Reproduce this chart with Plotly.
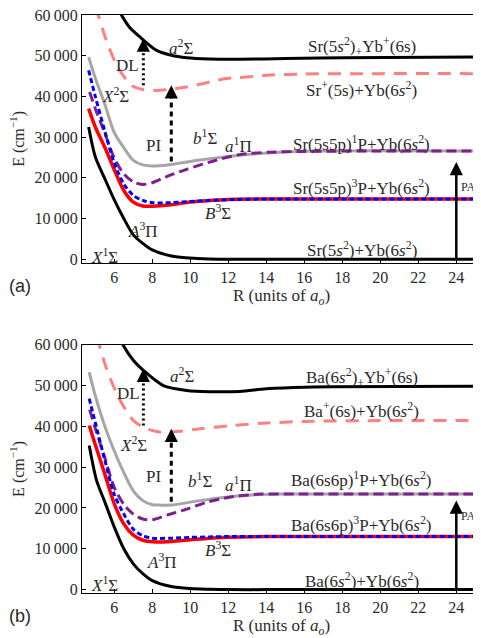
import plotly.graph_objects as go

# ---------------- Panel (a): SrYb ----------------
R_X1S_a = [4.65, 5.0, 5.5, 6.0, 6.5, 7.0, 7.5, 8.0, 9.0, 10.0, 11.0, 12.0, 14, 18, 25]
E_X1S_a = [32500, 25200, 19800, 14600, 10000, 6000, 3900, 2300, 800, 300, 100, 0, 0, 0, 0]

R_A3P_a = [4.65, 5.0, 5.5, 6.0, 6.5, 7.0, 7.5, 8.0, 9.0, 10.0, 11.0, 12.0, 14, 18, 25]
E_A3P_a = [37000, 32500, 27500, 22000, 16900, 14050, 13100, 13050, 13400, 14050, 14450, 14700, 14800, 14800, 14800]

R_B3S_a = [4.65, 5.0, 5.5, 6.0, 6.5, 7.0, 7.5, 8.0, 9.0, 10.0, 11.0, 12.0, 14, 18, 25]
E_B3S_a = [46400, 40000, 31500, 23600, 18500, 15700, 14450, 13900, 13900, 14200, 14450, 14650, 14800, 14800, 14800]

R_b1S_a = [4.7, 5.0, 5.5, 6.0, 6.5, 7.0, 7.5, 8.0, 8.7, 9.8, 11.4, 12.7, 14.2, 16, 20, 25]
E_b1S_a = [41100, 37000, 31000, 24800, 21000, 19000, 18400, 18800, 20200, 22100, 24400, 25800, 26300, 26500, 26600, 26600]

R_a1P_a = [4.65, 5.0, 5.5, 6.0, 6.5, 7.0, 7.5, 8.0, 8.4, 9.0, 10.5, 11.9, 13.7, 14.7, 17, 25]
E_a1P_a = [49700, 44500, 38100, 31100, 27400, 24300, 23200, 22900, 23000, 23300, 24400, 25200, 26000, 26300, 26600, 26600]

R_X2S_a = [5.0, 5.16, 5.6, 6.13, 6.5, 6.9, 7.5, 8.4, 9.8, 11.9, 12.6, 14, 16, 20, 25]
E_X2S_a = [62000, 59900, 53500, 47600, 44900, 42700, 41700, 41500, 42300, 44400, 44600, 45200, 45500, 45600, 45600]

R_a2S_a = [6.2, 6.39, 6.8, 7.35, 8.23, 9.0, 9.81, 11.0, 12.6, 15, 18, 25]
E_a2S_a = [61600, 59900, 57000, 54600, 51300, 50100, 49500, 49200, 49150, 49300, 49500, 49700]

arrow_R_a = [7.53, 9.0, 24.0]
arrow_from_a = [42750, 24000, 0]
arrow_to_a = [54200, 42750, 23900]

# ---------------- Panel (b): BaYb ----------------
R_X1S_b = [4.68, 5.07, 5.5, 6.0, 6.5, 7.0, 7.5, 8.0, 9.0, 10, 11, 12, 14, 18, 25]
E_X1S_b = [35300, 26700, 21500, 15300, 10000, 6300, 3900, 2200, 740, 250, 80, 0, 0, 0, 0]

R_A3P_b = [4.68, 5.0, 5.5, 6.0, 6.5, 7.0, 7.5, 8.0, 9.0, 10, 11, 12, 14, 18, 25]
E_A3P_b = [40200, 35500, 28300, 21000, 16100, 13340, 12100, 11700, 11800, 12200, 12600, 12800, 13000, 13000, 13000]

R_B3S_b = [4.68, 5.0, 5.5, 6.0, 6.5, 7.0, 7.5, 8.0, 9.0, 10, 11, 12, 14, 18, 25]
E_B3S_b = [46800, 40900, 31700, 23300, 18500, 14800, 13200, 12600, 12600, 12800, 12900, 13000, 13000, 13000, 13000]

R_b1S_b = [4.7, 5.0, 5.5, 6.0, 6.5, 7.0, 7.5, 8.0, 8.8, 9.6, 11.0, 12.3, 13.7, 16, 25]
E_b1S_b = [44100, 39500, 32300, 25000, 20900, 18500, 17300, 17100, 18300, 19400, 21600, 22800, 23400, 23400, 23400]

R_a1P_b = [4.68, 5.0, 5.5, 5.8, 6.3, 7.0, 7.5, 8.0, 8.4, 9.0, 10.5, 12.6, 14.7, 17, 25]
E_a1P_b = [53300, 47500, 40000, 36300, 30700, 24200, 21800, 20800, 20700, 20700, 21800, 23000, 23400, 23400, 23400]

R_X2S_b = [5.05, 5.21, 5.6, 6.13, 6.5, 7.0, 7.6, 8.41, 9.5, 10.5, 12.26, 14, 16, 20, 25]
E_X2S_b = [62000, 59850, 54000, 48000, 44800, 41450, 39600, 38600, 38800, 39400, 40230, 40800, 41200, 41400, 41450]

R_a2S_b = [6.3, 6.47, 7.0, 7.53, 8.58, 9.81, 11, 12.6, 14, 16, 25]
E_a2S_b = [61800, 59850, 56200, 53700, 50000, 48800, 48500, 48560, 49200, 49600, 49800]

arrow_R_b = [7.53, 9.0, 24.0]
arrow_from_b = [40230, 21500, 0]
arrow_to_b = [54100, 39400, 21800]

# ticks
x_ticks = [6, 8, 10, 12, 14, 16, 18, 20, 22, 24]
y_ticks = [0, 10000, 20000, 30000, 40000, 50000, 60000]
y_ticktext = ["0", "10\u2009000", "20\u2009000", "30\u2009000", "40\u2009000", "50\u2009000", "60\u2009000"]

FONT = "Liberation Serif"
TXT = "#2a2a2a"

fig = go.Figure()


def curve(R, E, color, width, dash, xa, ya):
    fig.add_trace(go.Scatter(x=R, y=E, mode="lines", xaxis=xa, yaxis=ya,
                             line=dict(color=color, width=width, dash=dash,
                                       shape="spline", smoothing=0.8),
                             showlegend=False, hoverinfo="skip"))


def panel(xa, ya, d):
    curve(d["a1P"][0], d["a1P"][1], "#a6a6a6", 3, "solid", xa, ya)
    curve(d["b1S"][0], d["b1S"][1], "#7f1f8f", 3, "10px,5px", xa, ya)
    curve(d["A3P"][0], d["A3P"][1], "#ff0000", 3.5, "solid", xa, ya)
    curve(d["B3S"][0], d["B3S"][1], "#0000ff", 3, "5px,3px", xa, ya)
    curve(d["X1S"][0], d["X1S"][1], "#000000", 3, "solid", xa, ya)
    curve(d["X2S"][0], d["X2S"][1], "#ff8080", 3, "13px,9px", xa, ya)
    curve(d["a2S"][0], d["a2S"][1], "#000000", 3, "solid", xa, ya)
    dashes = ["2px,3px", "5px,4px", "solid"]
    widths = [3, 3, 2.5]
    for R, e0, e1, dsh, w in zip(d["arR"], d["arF"], d["arT"], dashes, widths):
        fig.add_trace(go.Scatter(x=[R, R], y=[e0, e1 - 1800], mode="lines", xaxis=xa, yaxis=ya,
                                 line=dict(color="black", width=w, dash=dsh),
                                 showlegend=False, hoverinfo="skip"))
        fig.add_annotation(x=R, y=e1, ax=R, ay=e1 - 2500, xref=xa, yref=ya,
                           axref=xa, ayref=ya, showarrow=True, arrowhead=2,
                           arrowsize=1.2, arrowwidth=2.2, arrowcolor="black", text="")


panel("x", "y", dict(X1S=(R_X1S_a, E_X1S_a), A3P=(R_A3P_a, E_A3P_a), B3S=(R_B3S_a, E_B3S_a),
                     b1S=(R_b1S_a, E_b1S_a), a1P=(R_a1P_a, E_a1P_a), X2S=(R_X2S_a, E_X2S_a),
                     a2S=(R_a2S_a, E_a2S_a), arR=arrow_R_a, arF=arrow_from_a, arT=arrow_to_a))
panel("x2", "y2", dict(X1S=(R_X1S_b, E_X1S_b), A3P=(R_A3P_b, E_A3P_b), B3S=(R_B3S_b, E_B3S_b),
                       b1S=(R_b1S_b, E_b1S_b), a1P=(R_a1P_b, E_a1P_b), X2S=(R_X2S_b, E_X2S_b),
                       a2S=(R_a2S_b, E_a2S_b), arR=arrow_R_b, arF=arrow_from_b, arT=arrow_to_b))

# text labels
labels_a = [
    ("<i>a</i><sup>2</sup>Σ", 9.51, 52150),
    ("DL", 6.72, 47670),
    ("<i>X</i><sup>2</sup>Σ", 6.04, 40270),
    ("PI", 8.04, 27860),
    ("<i>b</i><sup>1</sup>Σ", 10.77, 30070),
    ("<i>a</i><sup>1</sup>Π", 12.53, 28040),
    ("Sr(5s5p)<sup>1</sup>P+Yb(6<i>s</i><sup>2</sup>)", 19.02, 28450),
    ("Sr(5<i>s</i><sup>2</sup>)<sub>+</sub>Yb<sup>+</sup>(6s)", 19.02, 52150),
    ("Sr<sup>+</sup>(5s)+Yb(6<i>s</i><sup>2</sup>)", 19.02, 41940),
    ("Sr(5s5p)<sup>3</sup>P+Yb(6<i>s</i><sup>2</sup>)", 19.02, 17810),
    ("<i>B</i><sup>3</sup>Σ", 11.46, 11680),
    ("<i>A</i><sup>3</sup>Π", 7.53, 7190),
    ("<i>X</i><sup>1</sup>Σ", 5.51, 810),
    ("Sr(5<i>s</i><sup>2</sup>)+Yb(6<i>s</i><sup>2</sup>)", 19.02, 2450),
]
labels_b = [
    ("<i>a</i><sup>2</sup>Σ", 9.55, 52490),
    ("DL", 6.74, 48000),
    ("<i>X</i><sup>2</sup>Σ", 7.0, 35740),
    ("PI", 8.05, 27790),
    ("<i>b</i><sup>1</sup>Σ", 10.51, 26740),
    ("<i>a</i><sup>1</sup>Π", 12.53, 25930),
    ("Ba(6s6p)<sup>1</sup>P+Yb(6<i>s</i><sup>2</sup>)", 19.02, 27150),
    ("Ba(6<i>s</i><sup>2</sup>)<sub>+</sub>Yb<sup>+</sup>(6s)", 19.02, 52070),
    ("Ba<sup>+</sup>(6s)+Yb(6<i>s</i><sup>2</sup>)", 19.02, 44080),
    ("Ba(6s6p)<sup>3</sup>P+Yb(6<i>s</i><sup>2</sup>)", 19.02, 16110),
    ("<i>B</i><sup>3</sup>Σ", 11.47, 9980),
    ("<i>A</i><sup>3</sup>Π", 8.49, 7110),
    ("<i>X</i><sup>1</sup>Σ", 5.51, 1400),
    ("Ba(6<i>s</i><sup>2</sup>)+Yb(6<i>s</i><sup>2</sup>)", 19.02, 2380),
]
for lbls, xa, ya in ((labels_a, "x", "y"), (labels_b, "x2", "y2")):
    for t, x, y in lbls:
        fig.add_annotation(x=x, y=y, xref=xa, yref=ya, text=t, showarrow=False,
                           xanchor="center", yanchor="middle",
                           font=dict(family=FONT, size=17, color=TXT))

fig.add_annotation(x=24.15, y=17810, xref="x", yref="y", text="PA", showarrow=False,
                   xanchor="left", font=dict(family=FONT, size=12, color=TXT))
fig.add_annotation(x=24.15, y=18150, xref="x2", yref="y2", text="PA", showarrow=False,
                   xanchor="left", font=dict(family=FONT, size=12, color=TXT))

# axis titles and panel tags
for yp in (0.786, 0.215):
    fig.add_annotation(x=-0.160, y=yp, xref="paper", yref="paper", text="E (cm<sup>−1</sup>)",
                       textangle=-90, showarrow=False, xanchor="center", yanchor="middle",
                       font=dict(family=FONT, size=16, color=TXT))
for yp in (0.5126, -0.0583):
    fig.add_annotation(x=0.5, y=yp, xref="paper", yref="paper",
                       text="R (units of <i>a<sub>o</sub></i>)", showarrow=False,
                       xanchor="center", yanchor="middle",
                       font=dict(family=FONT, size=17, color=TXT))
for t, yp in (("(a)", 0.5317), ("(b)", -0.0393)):
    fig.add_annotation(x=-0.155, y=yp, xref="paper", yref="paper", text=t, showarrow=False,
                       xanchor="center", yanchor="middle",
                       font=dict(family="Liberation Sans", size=18, color=TXT))

xcommon = dict(range=[4.3, 25.3], tickvals=x_ticks, ticks="inside", ticklen=4, tickcolor="black",
               showline=True, linecolor="black", linewidth=1.2, mirror=True, showgrid=False,
               zeroline=False, ticklabeloverflow="allow",
               tickfont=dict(family=FONT, size=16, color=TXT))
ycommon = dict(range=[-830, 60000], tickvals=y_ticks, ticktext=y_ticktext, ticks="inside",
               ticklen=4, tickcolor="black", showline=True, linecolor="black", linewidth=1.2,
               showgrid=False, zeroline=False, ticklabeloverflow="allow",
               tickfont=dict(family=FONT, size=16, color=TXT))

# page body adds an 8px margin, so the figure is shifted accordingly
fig.update_layout(
    width=473, height=630,
    margin=dict(l=74, r=0, t=7, b=45),
    paper_bgcolor="white", plot_bgcolor="white",
    xaxis=dict(domain=[0, 1], anchor="y", **xcommon),
    yaxis=dict(domain=[0.5715, 1], anchor="x", **ycommon),
    xaxis2=dict(domain=[0, 1], anchor="y2", **xcommon),
    yaxis2=dict(domain=[0, 0.4296], anchor="x2", **ycommon),
)

fig.write_html("out.html")
